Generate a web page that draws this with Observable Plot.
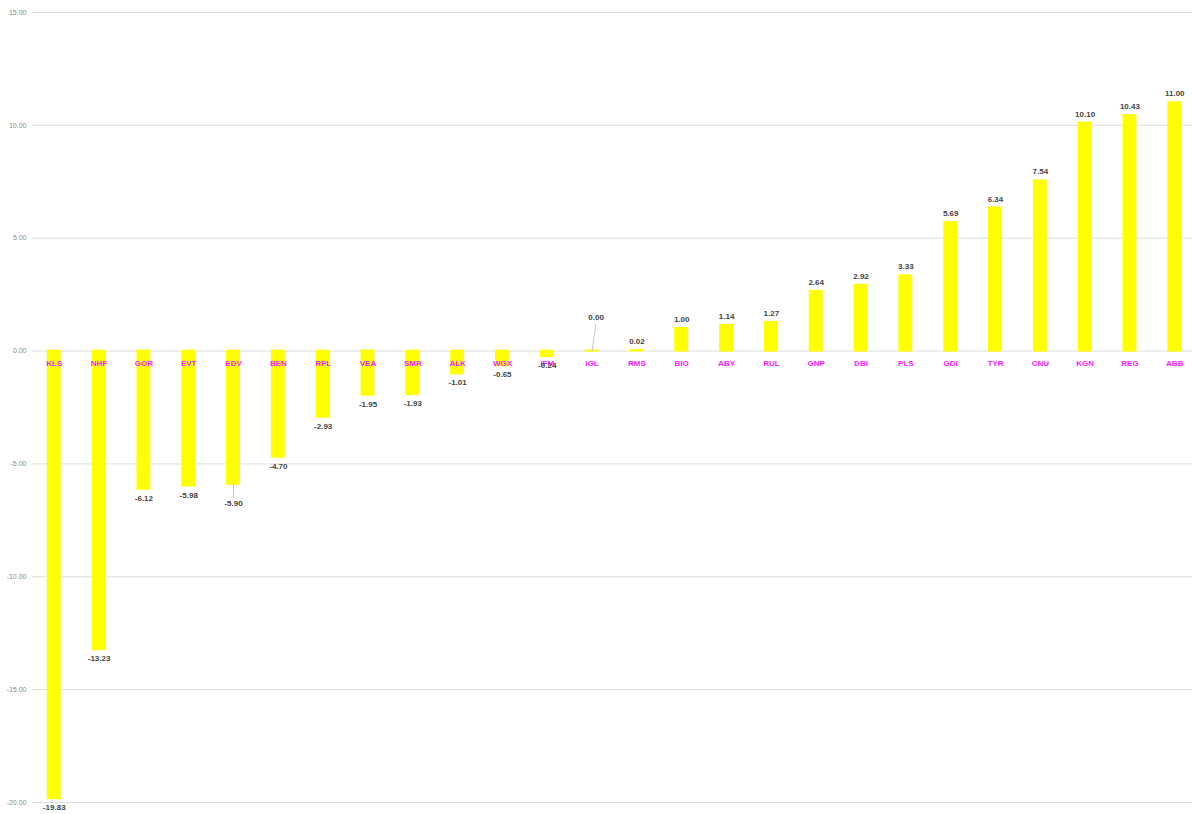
<!DOCTYPE html>
<html>
<head>
<meta charset="utf-8">
<script src="https://cdn.jsdelivr.net/npm/d3@7"></script>
<script src="https://cdn.jsdelivr.net/npm/@observablehq/plot@0.6"></script>
<style>
  html, body { margin: 0; padding: 0; background: #fff; overflow: hidden; }
  #chart svg { display: block; font-family: "Liberation Sans", Arial, sans-serif; }
  #chart svg [aria-label="y-axis tick label"] { fill: #8a8a8a; }
</style>
</head>
<body>
<div id="chart"></div>
<script>
const categories = ["KLS","NHF","GOR","EVT","EDV","BEN","RPL","VEA","SMR","ALK","WGX","IFM","IGL","RMS","BIO","ABY","RUL","GNP","DBI","PLS","GDI","TYR","CNU","KGN","REG","ABB"];
const values = [-19.83,-13.23,-6.12,-5.98,-5.90,-4.70,-2.93,-1.95,-1.93,-1.01,-0.65,-0.24,0.00,0.02,1.00,1.14,1.27,2.64,2.92,3.33,5.69,6.34,7.54,10.10,10.43,11.00];
const yTicks = [-20,-15,-10,-5,0,5,10,15];

const data = categories.map((cat, i) => ({cat, value: values[i]}));

// label placement tweaks (styling, not data)
const nudges = {
  IGL: {dx: 4, dy: -34, leaderLength: 27, leaderRotate: 8},
  EDV: {dx: 0, dy: 19, leaderLength: 13, leaderRotate: 180}
};

const plain = data.filter(d => !nudges[d.cat]);
const nudged = data.filter(d => nudges[d.cat]);
const fmt = v => v.toFixed(2);
const lineShape = {draw(context, l) { context.moveTo(0, 0); context.lineTo(0, -l); }};

const marks = [
  Plot.gridY(yTicks, {stroke: "#dedede", strokeOpacity: 1}),
  Plot.axisY(yTicks, {tickSize: 0, tickPadding: 6, tickFormat: fmt, fontSize: 7, label: null}),
  Plot.barY(data, {x: "cat", y: "value", fill: "#ffff00", insetTop: -1, insetBottom: -1}),
  Plot.text(data, {x: "cat", y: 0, text: "cat", dy: 12, fill: "#ff1aff", fontWeight: "bold", fontSize: 8}),
  Plot.text(plain.filter(d => d.value >= 0), {x: "cat", y: "value", text: d => fmt(d.value), dy: -9, fill: "#444", fontWeight: "bold", fontSize: 8}),
  Plot.text(plain.filter(d => d.value < 0), {x: "cat", y: "value", text: d => fmt(d.value), dy: 9, fill: "#444", fontWeight: "bold", fontSize: 8})
];
for (const d of nudged) {
  const n = nudges[d.cat];
  marks.push(Plot.vector([d], {x: "cat", y: "value", anchor: "start", length: n.leaderLength, rotate: n.leaderRotate, shape: lineShape, stroke: "#c8c8c8", strokeWidth: 1}));
  marks.push(Plot.text([d], {x: "cat", y: "value", text: d => fmt(d.value), dx: n.dx, dy: n.dy, fill: "#444", fontWeight: "bold", fontSize: 8}));
}

const chart = Plot.plot({
  width: 1192,
  height: 814,
  marginTop: 12,
  marginBottom: 12,
  marginLeft: 32,
  marginRight: -4,
  style: {background: "#fff", overflow: "hidden"},
  x: {domain: categories, paddingInner: 0.69, paddingOuter: 0.33, round: false, axis: null},
  y: {domain: [-20, 15], axis: null},
  marks
});
document.getElementById("chart").append(chart);
</script>
</body>
</html>
